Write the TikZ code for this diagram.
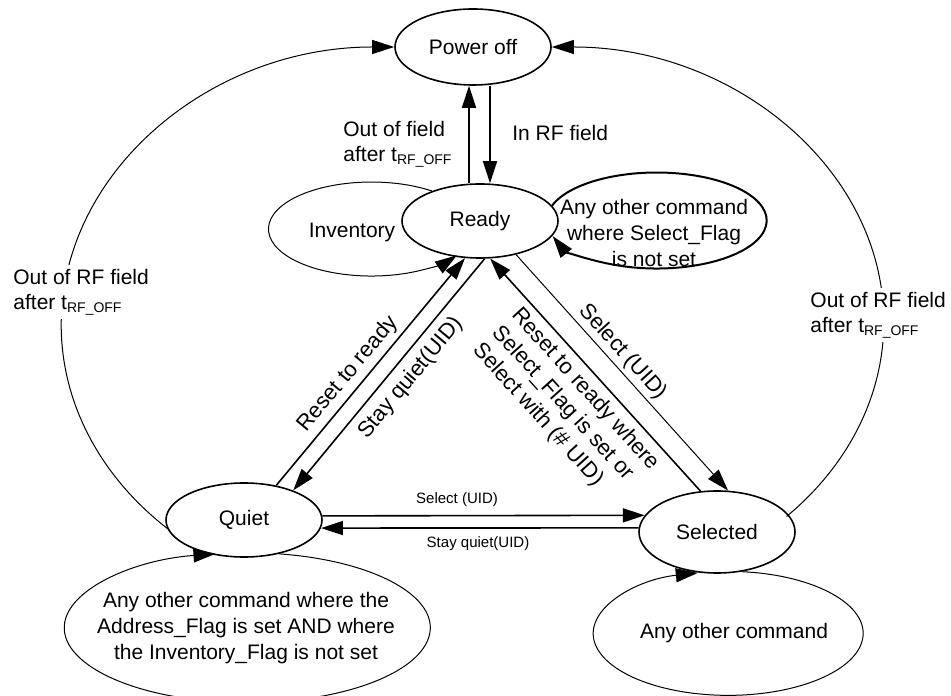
\documentclass[tikz,border=0pt]{standalone}
\usepackage{fontspec}
\setmainfont{Liberation Sans}
\usetikzlibrary{shapes.geometric,arrows.meta}

\newcommand{\trfoff}{t\raisebox{-1.2pt}{\fontsize{7}{8}\selectfont RF\_OFF}}

\begin{document}
\begin{tikzpicture}[x=0.5pt,y=0.5pt,
        >={Triangle[length=11pt,width=7pt]},
        state/.style={ellipse,draw,line width=0.8pt,inner sep=0pt,font=\fontsize{10.5}{12.8}\selectfont},
        mainarr/.style={->,line width=0.8pt},
        thinarr/.style={->,line width=0.5pt},
        lbl/.style={inner sep=2pt,font=\fontsize{10.5}{12.8}\selectfont},
        rlbl/.style={inner sep=1pt,font=\fontsize{11}{13}\selectfont},
        slbl/.style={inner sep=1pt,font=\fontsize{7.5}{9}\selectfont}]
        \useasboundingbox (0,0) rectangle (951,695);

        \node[state,minimum width=78pt,minimum height=38pt] (P) at (473,648) {Power off};
        \node[state,minimum width=78pt,minimum height=37pt] (R) at (480,474) {Ready};
        \node[state,minimum width=78pt,minimum height=37pt] (Q) at (244,175) {Quiet};
        \node[state,minimum width=78pt,minimum height=41pt] (S) at (717,163) {Selected};

        \node[lbl] (inv) at (352,463) {Inventory};
        \node[lbl,align=center] (notset) at (654,462) {Any other command\\where Select\_Flag\\is not set};
        \node[lbl,align=center] (addr) at (246,67) {Any other command where the\\Address\_Flag is set AND where\\the Inventory\_Flag is not set};
        \node[lbl] (other) at (734,62) {Any other command};

        \draw[thinarr] (R.148) arc[start angle=54,end angle=326,x radius=51.5pt,y radius=23.5pt];
        \draw[->,line width=1pt] (R.12.1) arc[start angle=162,end angle=-161,x radius=55pt,y radius=24pt];
        \draw[thinarr] (Q.-44) arc[start angle=80,end angle=-260,x radius=91.5pt,y radius=37.5pt];
        \draw[thinarr] (S.-58.8) arc[start angle=84.2,end angle=-257,x radius=67.5pt,y radius=31pt];

        \draw[thinarr,<-] (P.west) arc[start angle=90,end angle=227.5,x radius=166.5pt,y radius=139pt];
        \draw[thinarr,<-] (P.east) arc[start angle=90,end angle=-45,x radius=166pt,y radius=137.5pt];
        \node[lbl,align=left,anchor=west,fill=white] (outl) at (9,403) {Out of RF field\\after \trfoff};
        \node[lbl,align=left,anchor=west,fill=white] (outr) at (806,380) {Out of RF field\\after \trfoff};

        \draw[mainarr] ([xshift=-5.5pt]R.north) -- ([xshift=-2pt]P.south);
        \draw[mainarr] ([xshift=8.5pt]P.south) -- ([xshift=5pt]R.north);
        \node[lbl,align=left,anchor=west] (outf) at (339,551) {Out of field\\after \trfoff};
        \node[lbl,anchor=west] (inrf) at (508,562) {In RF field};

        \draw[mainarr] (Q.47.6) -- (R.248.5);
        \draw[mainarr] (R.277.7) -- (Q.31);
        \draw[mainarr] (S.112.5) -- (R.285);
        \draw[thinarr] (R.-43.3) -- (S.75);
        \node[rlbl,rotate=50] (rst) at (348,321) {Reset to ready};
        \node[rlbl,rotate=50] (sq) at (411,317) {Stay quiet(UID)};
        \node[rlbl,rotate=-48] (selu) at (623,343) {Select (UID)};
        \node[rlbl,rotate=-48,align=left] (rstw) at (566,288) {Reset to ready where\\Select\_Flag is set or\\Select with (\# UID)};

        \draw[mainarr] (Q.3) -- (S.167.5);
        \draw[mainarr] (S.177.8) -- (Q.-6.7);
        \node[slbl] (selh) at (457,195) {Select (UID)};
        \node[slbl] (sqh) at (478,151) {Stay quiet(UID)};
    \end{tikzpicture}
\end{document}
